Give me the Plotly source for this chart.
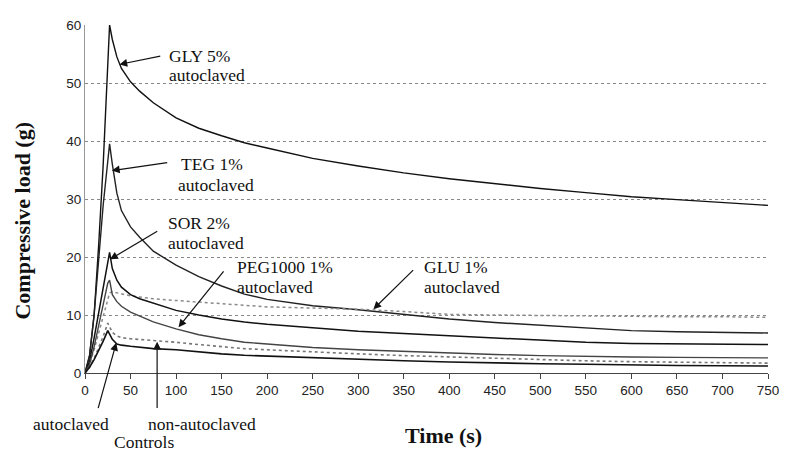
import plotly.graph_objects as go

# ---- data ----
time_s = [0, 5, 10, 15, 20, 25, 27, 30, 35, 40, 50, 60, 75, 100, 125, 150, 175, 200,
          250, 300, 350, 400, 450, 500, 550, 600, 650, 700, 750]

gly_5 = [0, 3, 10, 22, 36, 53, 60, 57.5, 54.5, 52.5, 50.2, 48.6, 46.6, 44.0, 42.2, 40.9,
         39.7, 38.8, 37.0, 35.7, 34.5, 33.5, 32.6, 31.8, 31.1, 30.4, 29.9, 29.4, 28.9]
teg_1 = [0, 3, 10, 19, 29, 36.5, 39.5, 36, 31, 28, 25.2, 23.4, 21.0, 18.6, 16.6, 15.0,
         13.6, 12.7, 11.6, 10.9, 10.1, 9.3, 8.7, 8.2, 7.7, 7.3, 7.1, 7.0, 6.9]
sor_2 = [0, 2, 6, 10.5, 15, 19.5, 20.8, 18, 16, 14.8, 13.5, 12.8, 12.0, 10.8, 10.0, 9.3,
         8.8, 8.4, 7.8, 7.2, 6.8, 6.4, 6.0, 5.6, 5.3, 5.1, 5.0, 4.9, 4.9]
peg_1 = [0, 1.5, 4.5, 8, 11.5, 15.5, 16.0, 13.5, 12.3, 11.5, 10.5, 9.8, 8.8, 7.6, 6.6, 5.9,
         5.3, 5.0, 4.4, 4.0, 3.7, 3.4, 3.2, 3.0, 2.85, 2.75, 2.7, 2.6, 2.6]
glu_1 = [0, 1.5, 4, 7, 10, 12.8, 13.8, 14.0, 13.8, 13.6, 13.3, 13.1, 12.8, 12.5, 12.2, 11.9,
         11.6, 11.4, 11.2, 11.0, 10.6, 10.1, 10.0, 9.9, 9.8, 9.7, 9.7, 9.7, 9.6]
ctrl_non_auto = [0, 1, 2.5, 4.3, 6.3, 8.6, 8.0, 7.0, 6.4, 6.1, 5.9, 5.8, 5.6, 5.3, 4.9, 4.5,
                 4.2, 4.0, 3.6, 3.3, 3.0, 2.75, 2.5, 2.3, 2.1, 1.95, 1.85, 1.75, 1.7]
ctrl_auto = [0, 1, 2.3, 3.8, 5.5, 7.3, 6.6, 5.8, 5.0, 4.8, 4.6, 4.4, 4.2, 4.0, 3.6, 3.3,
             3.05, 2.9, 2.6, 2.3, 2.1, 1.9, 1.7, 1.6, 1.5, 1.35, 1.3, 1.25, 1.2]

x_ticks = list(range(0, 751, 50))
y_ticks = [0, 10, 20, 30, 40, 50, 60]

series = [
    ("GLY 5% autoclaved", gly_5, "#111111", "solid", 1.4),
    ("TEG 1% autoclaved", teg_1, "#222222", "solid", 1.4),
    ("GLU 1% autoclaved", glu_1, "#8a8a8a", "dot", 1.5),
    ("SOR 2% autoclaved", sor_2, "#111111", "solid", 1.5),
    ("PEG1000 1% autoclaved", peg_1, "#444444", "solid", 1.4),
    ("Control non-autoclaved", ctrl_non_auto, "#777777", "dot", 1.6),
    ("Control autoclaved", ctrl_auto, "#111111", "solid", 1.6),
]

fig = go.Figure()
for name, vals, col, dash, w in series:
    fig.add_trace(go.Scatter(x=time_s, y=vals, mode="lines", name=name,
                             line=dict(color=col, dash=dash, width=w)))

serif = "Liberation Serif, Times New Roman, serif"
sans = "Liberation Sans, Arial, sans-serif"

# curve labels (left edge x, y in data units)
labels = [
    ("GLY 5%", 89.7, 54.7), ("autoclaved", 89.7, 51.4),
    ("TEG 1%", 102.7, 36.1), ("autoclaved", 99.4, 32.5),
    ("SOR 2%", 88.6, 25.9), ("autoclaved", 88.6, 22.5),
    ("PEG1000 1%", 164.3, 18.3), ("autoclaved", 164.3, 14.9),
    ("GLU 1%", 369.6, 18.3), ("autoclaved", 369.6, 14.9),
]
for txt, lx, ly in labels:
    fig.add_annotation(x=lx, y=ly, xref="x", yref="y", text=txt, showarrow=False,
                       xanchor="left", yanchor="middle",
                       font=dict(family=serif, size=17.5, color="#111"))

# control labels below the axis (paper coords)
below = [("autoclaved", -0.0793, -0.1469), ("non-autoclaved", 0.0893, -0.1469),
         ("Controls", 0.0389, -0.1977)]
for txt, lx, ly in below:
    fig.add_annotation(x=lx, y=ly, xref="paper", yref="paper", text=txt, showarrow=False,
                       xanchor="left", yanchor="middle",
                       font=dict(family=serif, size=17.5, color="#111"))

# arrows: (tail x, tail y, tip x, tip y)
arrows = [
    (84.3, 54.7, 37.8, 53.2),
    (91.9, 36.3, 29.5, 34.9),
    (81.0, 24.6, 27.5, 19.6),
    (153.5, 17.8, 102.7, 7.9),
    (362.0, 18.0, 316.7, 11.0),
    (14.0, -6.3, 34.3, 5.2),
    (79.2, -6.3, 79.2, 5.4),
]
for tx, ty, hx, hy in arrows:
    fig.add_annotation(x=hx, y=hy, ax=tx, ay=ty, xref="x", yref="y", axref="x", ayref="y",
                       text="", showarrow=True, arrowhead=2, arrowsize=1.3,
                       arrowwidth=1.2, arrowcolor="#111", standoff=0)

fig.add_annotation(x=-0.0908, y=0.438, xref="paper", yref="paper",
                   xanchor="center", yanchor="middle",
                   text="<b>Compressive load (g)</b>", textangle=-90, showarrow=False,
                   font=dict(family=serif, size=22, color="#111"))
fig.add_annotation(x=0.5245, y=-0.181, xref="paper", yref="paper",
                   xanchor="center", yanchor="middle",
                   text="<b>Time (s)</b>", showarrow=False,
                   font=dict(family=serif, size=22, color="#111"))

fig.update_layout(
    width=781, height=443,
    margin=dict(l=77, r=10, t=11, b=78),
    paper_bgcolor="white", plot_bgcolor="white",
    showlegend=False,
)
fig.update_xaxes(range=[0, 750], tickvals=x_ticks, ticktext=[str(v) for v in x_ticks],
                 showgrid=False, zeroline=False, showline=True, linecolor="#444",
                 linewidth=1, ticks="outside", ticklen=5, tickcolor="#444",
                 ticklabeloverflow="allow",
                 tickfont=dict(family=sans, size=13.5, color="#222"))
fig.update_yaxes(range=[0, 60], tickvals=y_ticks, ticktext=[str(v) for v in y_ticks],
                 showgrid=True, gridcolor="#888", griddash="3px,3px", gridwidth=1,
                 zeroline=False, showline=True, linecolor="#999", linewidth=1,
                 ticks="", tickfont=dict(family=sans, size=13.5, color="#222"))

fig.write_html("out.html")
